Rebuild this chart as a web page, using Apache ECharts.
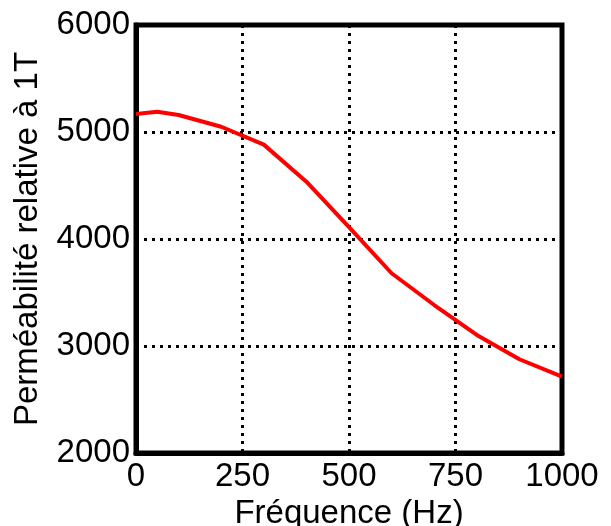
<!DOCTYPE html>
<html>
<head>
<meta charset="utf-8">
<script src="https://cdn.jsdelivr.net/npm/echarts@6/dist/echarts.min.js"></script>
<style>
html,body{margin:0;padding:0;background:#fff;}
#chart{width:611px;height:526px;}
</style>
</head>
<body>
<div id="chart"></div>
<script>
const frequencies = [0, 50, 100, 200, 300, 400, 500, 600, 700, 800, 900, 1000];
const permeability = [5168, 5190, 5159, 5049, 4882, 4536, 4110, 3680, 3383, 3103, 2876, 2713];
const xTicks = [0, 250, 500, 750, 1000];
const yTicks = [2000, 3000, 4000, 5000, 6000];
const xTitle = 'Fréquence (Hz)';
const yTitle = 'Perméabilité relative à 1T';

const font = '"Liberation Sans", Arial, sans-serif';
const chart = echarts.init(document.getElementById('chart'), null, {renderer: 'canvas'});
const gridLine = {show: true, lineStyle: {color: '#000', width: 3, type: [3, 5]}};
chart.setOption({
  animation: false,
  backgroundColor: '#fff',
  grid: {left: 136, right: 49, top: 25, bottom: 73, containLabel: false, outerBoundsMode: 'none',
    show: true, borderColor: '#000', borderWidth: 5, backgroundColor: 'transparent'},
  xAxis: {
    type: 'value', min: xTicks[0], max: xTicks[xTicks.length - 1], interval: 250,
    name: xTitle, nameLocation: 'middle', nameGap: 13,
    nameTextStyle: {fontFamily: font, fontSize: 33, color: '#000'},
    axisLine: {show: true, lineStyle: {color: '#000', width: 5}},
    axisTick: {show: false},
    axisLabel: {fontFamily: font, fontSize: 33, color: '#000', margin: 7, showMinLabel: true, showMaxLabel: true,
      formatter: v => String(v)},
    splitLine: gridLine
  },
  yAxis: {
    type: 'value', min: yTicks[0], max: yTicks[yTicks.length - 1], interval: 1000,
    name: yTitle, nameLocation: 'middle', nameGap: 92,
    nameTextStyle: {fontFamily: font, fontSize: 33, color: '#000'},
    axisLine: {show: true, lineStyle: {color: '#000', width: 5}},
    axisTick: {show: false},
    axisLabel: {fontFamily: font, fontSize: 33, color: '#000', margin: 6, formatter: v => String(v)},
    splitLine: gridLine
  },
  series: [{
    type: 'line',
    data: frequencies.map((f, i) => [f, permeability[i]]),
    showSymbol: false,
    symbol: 'none',
    lineStyle: {color: '#ff0000', width: 4},
    z: 10
  }]
});
</script>
</body>
</html>
